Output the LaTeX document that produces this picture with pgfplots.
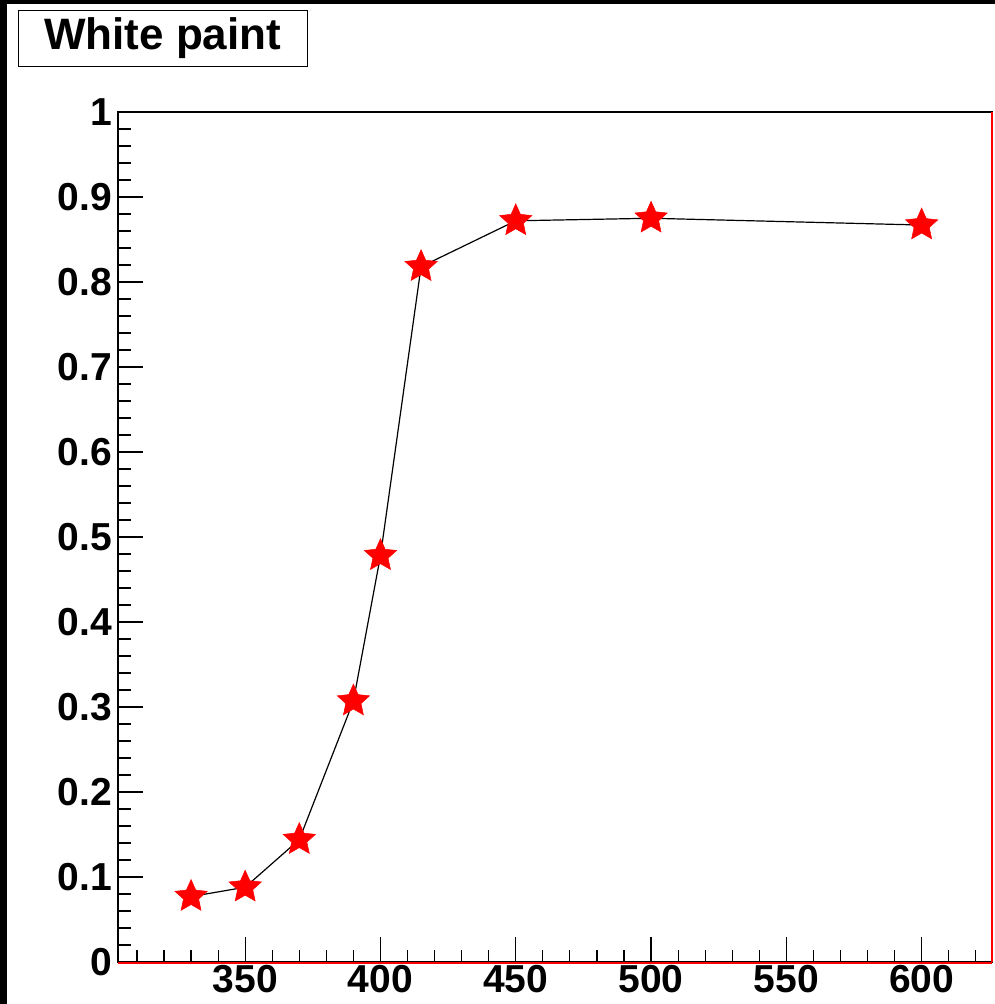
\documentclass[border=0pt]{standalone}
\usepackage{fontspec}
\setmainfont{Liberation Sans}
\usepackage{pgfplots}
\pgfplotsset{compat=1.18}
\pgfdeclareplotmark{fstar}{%
  \pgfpathmoveto{\pgfpointpolar{90}{\pgfplotmarksize}}%
  \pgfpathlineto{\pgfpointpolar{126}{0.47\pgfplotmarksize}}%
  \pgfpathlineto{\pgfpointpolar{162}{\pgfplotmarksize}}%
  \pgfpathlineto{\pgfpointpolar{198}{0.47\pgfplotmarksize}}%
  \pgfpathlineto{\pgfpointpolar{234}{\pgfplotmarksize}}%
  \pgfpathlineto{\pgfpointpolar{270}{0.47\pgfplotmarksize}}%
  \pgfpathlineto{\pgfpointpolar{306}{\pgfplotmarksize}}%
  \pgfpathlineto{\pgfpointpolar{342}{0.47\pgfplotmarksize}}%
  \pgfpathlineto{\pgfpointpolar{18}{\pgfplotmarksize}}%
  \pgfpathlineto{\pgfpointpolar{54}{0.47\pgfplotmarksize}}%
  \pgfpathclose
  \pgfusepathqfillstroke
}
\begin{document}
\begin{tikzpicture}
\fill[black] (0pt,0pt) rectangle (995pt,-1004pt);
\fill[white] (7pt,-4pt) rectangle (995pt,-1004pt);
\useasboundingbox (0pt,0pt) rectangle (995pt,-1004pt);
\node[draw=black, line width=1.2pt, minimum width=289pt, minimum height=56pt, inner sep=0pt,
  anchor=north west, font=\fontsize{44}{44}\selectfont\bfseries] at (17.5pt,-9.5pt) {White paint};
\begin{axis}[
  at={(118pt,-962pt)}, anchor=south west,
  scale only axis, width=874pt, height=850pt,
  xmin=303, xmax=626, ymin=0, ymax=1,
  xtick={350,400,450,500,550,600},
  minor xtick={310,320,330,340,360,370,380,390,410,420,430,440,460,470,480,490,510,520,530,540,560,570,580,590,610,620},
  ytick={0,0.1,0.2,0.3,0.4,0.5,0.6,0.7,0.8,0.9,1},
  yticklabels={0,0.1,0.2,0.3,0.4,0.5,0.6,0.7,0.8,0.9,1},
  minor ytick={0.02,0.04,0.06,0.08,0.12,0.14,0.16,0.18,0.22,0.24,0.26,0.28,0.32,0.34,0.36,0.38,0.42,0.44,0.46,0.48,0.52,0.54,0.56,0.58,0.62,0.64,0.66,0.68,0.72,0.74,0.76,0.78,0.82,0.84,0.86,0.88,0.92,0.94,0.96,0.98},
  xtick pos=bottom, ytick pos=left,
  tick align=inside,
  major tick length=25pt, minor tick length=12.5pt,
  every tick/.style={black, line width=1.2pt},
  axis line style={black, line width=1.2pt},
  /pgf/number format/assume math mode=true,
  xticklabel style={font=\fontsize{39}{39}\selectfont\bfseries, inner sep=0pt, yshift=-3pt},
  yticklabel style={font=\fontsize{39}{39}\selectfont\bfseries, inner sep=0pt, xshift=-6pt},
  clip=false,
]
\addplot[black, line width=1.2pt, mark=fstar, mark size=17pt,
  mark options={fill=red, draw=red, line width=0.5pt}]
  coordinates {(330,0.077)(350,0.088)(370,0.144)(390,0.307)(400,0.478)(415,0.818)(450,0.872)(500,0.875)(600,0.867)};
\draw[red, line width=1.5pt] (rel axis cs:1,0) -- (rel axis cs:1,1);
\draw[red, line width=1.5pt] ([yshift=-1pt]rel axis cs:0,0) -- ([yshift=-1pt]rel axis cs:1,0);
\end{axis}
\end{tikzpicture}
\end{document}
